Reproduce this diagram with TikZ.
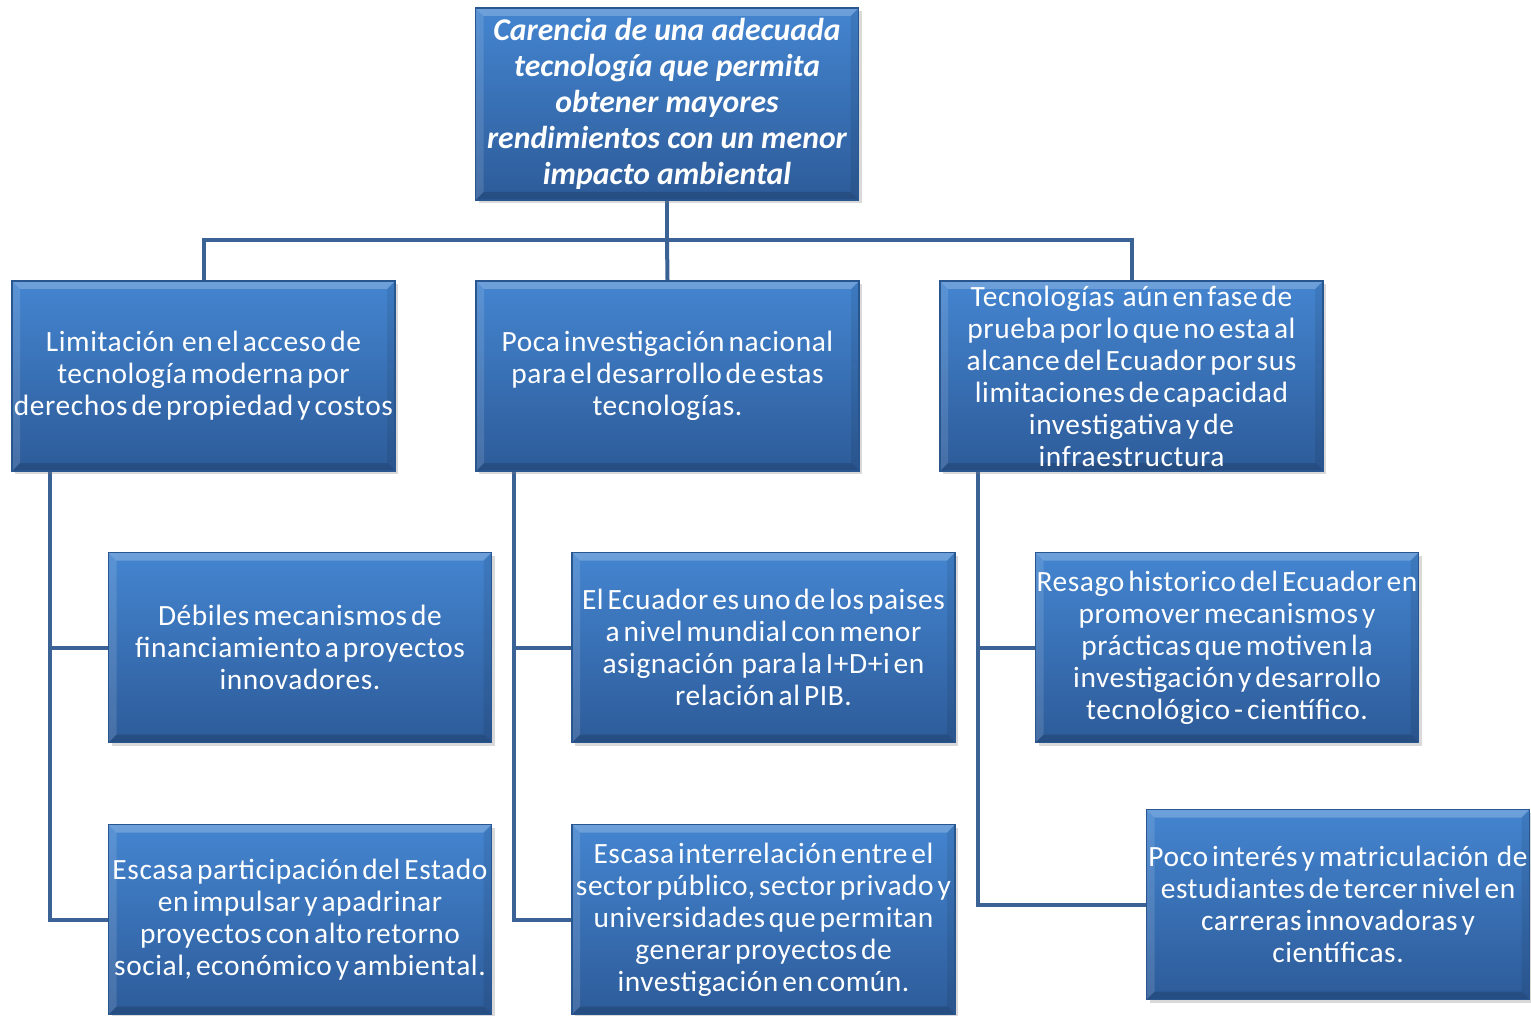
\documentclass[tikz,border=0pt]{standalone}
\usepackage{fontspec}
\setmainfont{Carlito}
\newfontfamily\bodyf{Carlito}[WordSpace=0.55,LetterSpace=2]
\usetikzlibrary{shadows,backgrounds,calc}
\definecolor{boxtop}{HTML}{4485D0}
\definecolor{boxbot}{HTML}{2D5B99}
\definecolor{boxedge}{HTML}{2A5690}
\definecolor{linkc}{HTML}{3B6294}
\tikzset{
  cbox/.style={rectangle, minimum width=191.5pt, minimum height=95pt,
    text width=210pt, align=flush center, inner ysep=0pt, inner xsep=-9.25pt,
    top color=boxtop, bottom color=boxbot, draw=boxedge, line width=0.6pt,
    text=white, font=\bodyf\fontsize{14.7}{16}\selectfont,
    drop shadow={opacity=0.3, shadow xshift=1.5pt, shadow yshift=-1.5pt},
    path picture={
      \fill[white,opacity=0.22] (path picture bounding box.north west) -- (path picture bounding box.north east) -- ([shift={(-4pt,-4pt)}]path picture bounding box.north east) -- ([shift={(4pt,-4pt)}]path picture bounding box.north west) -- cycle;
      \fill[white,opacity=0.12] (path picture bounding box.north west) -- (path picture bounding box.south west) -- ([shift={(4pt,4pt)}]path picture bounding box.south west) -- ([shift={(4pt,-4pt)}]path picture bounding box.north west) -- cycle;
      \fill[black,opacity=0.15] (path picture bounding box.south west) -- (path picture bounding box.south east) -- ([shift={(-4pt,4pt)}]path picture bounding box.south east) -- ([shift={(4pt,4pt)}]path picture bounding box.south west) -- cycle;
      \fill[black,opacity=0.08] (path picture bounding box.north east) -- (path picture bounding box.south east) -- ([shift={(-4pt,4pt)}]path picture bounding box.south east) -- ([shift={(-4pt,-4pt)}]path picture bounding box.north east) -- cycle;
    }},
  topbox/.style={cbox, minimum height=96pt, font=\rmfamily\fontsize{15.85}{18}\selectfont\bfseries\itshape},
  link/.style={draw=linkc, line width=2pt}
}
\begin{document}
\begin{tikzpicture}[x=0.5pt,y=-0.5pt]
\useasboundingbox (0,0) rectangle (1531,1016);
\node[topbox] (top) at (667,104) {Carencia de una adecuada\\tecnología que permita\\obtener mayores\\rendimientos con un menor\\impacto ambiental};
\node[cbox] (l1) at (203.5,376) {Limitación\ \ en el acceso de\\tecnología moderna por\\derechos de propiedad y costos};
\node[cbox] (m1) at (667.5,376) {Poca investigación nacional\\para el desarrollo de estas\\tecnologías.};
\node[cbox] (r1) at (1131.5,376) {Tecnologías\ \ aún en fase de\\prueba por lo que no esta al\\alcance del Ecuador por sus\\limitaciones de capacidad\\investigativa y de\\infraestructura};
\node[cbox] (l2) at (300,647.5) {Débiles mecanismos de\\financiamiento a proyectos\\innovadores.};
\node[cbox] (m2) at (763.5,647.5) {El Ecuador es uno de los paises\\a nivel mundial con menor\\asignación\ \ para la I+D+i en\\relación al PIB.};
\node[cbox] (r2) at (1227,647.5) {Resago historico del Ecuador en\\promover mecanismos y\\prácticas que motiven la\\investigación y desarrollo\\tecnológico - científico.};
\node[cbox] (l3) at (300,919.5) {Escasa participación del Estado\\en impulsar y apadrinar\\proyectos con alto retorno\\social, económico y ambiental.};
\node[cbox] (m3) at (763.5,919.5) {Escasa interrelación entre el\\sector público, sector privado y\\universidades que permitan\\generar proyectos de\\investigación en común.};
\node[cbox] (r3) at (1338,904.5) {Poco interés y matriculación\ \ de\\estudiantes de tercer nivel en\\carreras innovadoras y\\científicas.};
\coordinate (bus) at (667,240);
\coordinate (lt) at (50,471);
\coordinate (mt) at (514,471);
\coordinate (rt) at (978,471);
\begin{scope}[on background layer]
\draw[link] (top.south) -- (bus);
\draw[link] (l1.north) |- (bus);
\draw[link] (r1.north) |- (bus);
\draw[link] (bus) -- (m1.north);
\draw[link] (lt) |- (l3.west);
\draw[link] (lt |- l2.west) -- (l2.west);
\draw[link] (mt) |- (m3.west);
\draw[link] (mt |- m2.west) -- (m2.west);
\draw[link] (rt) |- (r3.west);
\draw[link] (rt |- r2.west) -- (r2.west);
\end{scope}
\end{tikzpicture}
\end{document}
